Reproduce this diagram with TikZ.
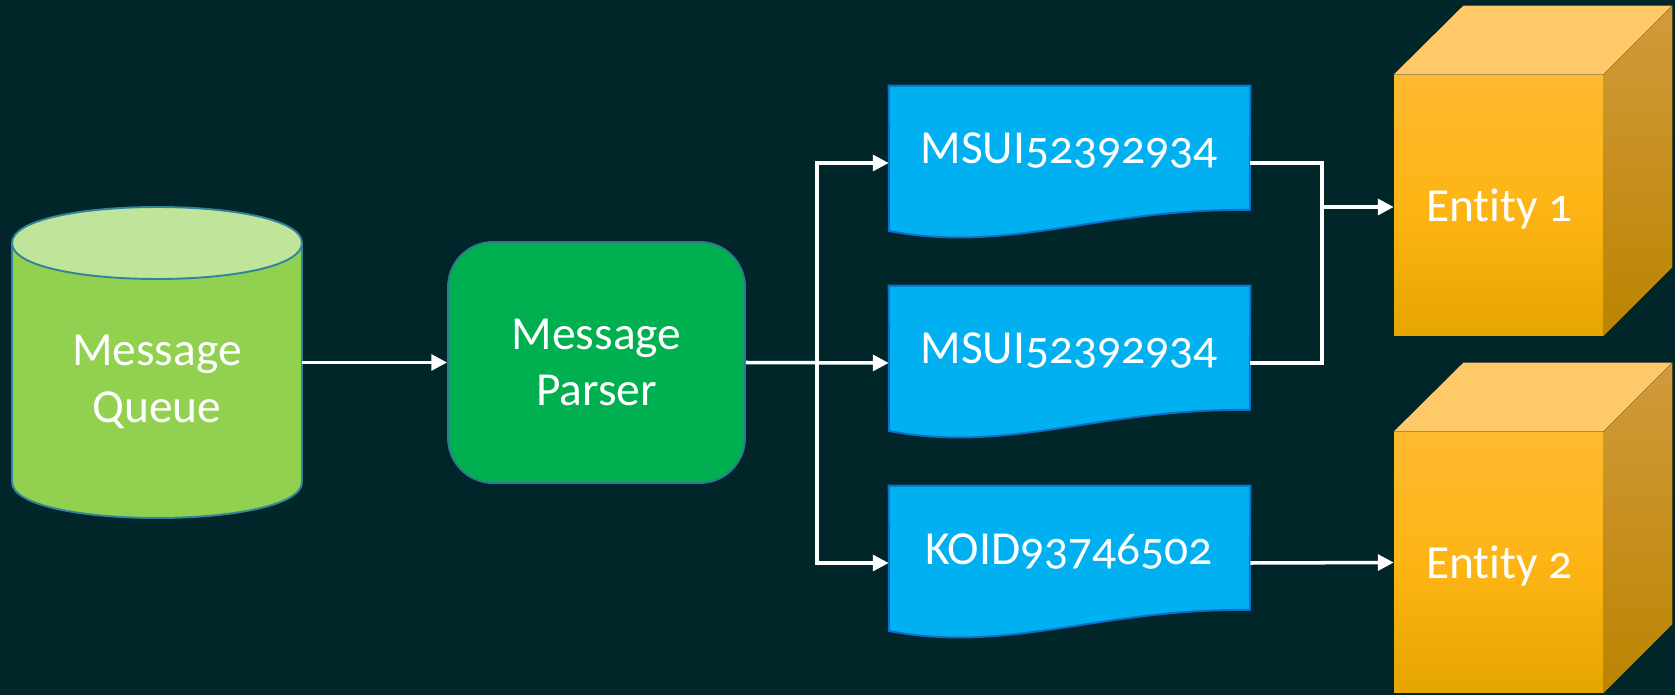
\documentclass[tikz,border=0pt]{standalone}
\usepackage{fontspec}
\setmainfont{Carlito}[Numbers=OldStyle,Ligatures=NoCommon]
\usetikzlibrary{arrows.meta,calc}
\definecolor{bg}{HTML}{012629}
\definecolor{mqbody}{HTML}{92D050}
\definecolor{mqtop}{HTML}{C0E49A}
\definecolor{mqline}{HTML}{31849B}
\definecolor{ppfill}{HTML}{00B050}
\definecolor{ppline}{HTML}{2F7A92}
\definecolor{docfill}{HTML}{00B0F0}
\definecolor{docline}{HTML}{0F6FC6}
\definecolor{cubetop}{HTML}{FFC869}
\definecolor{cubefrontA}{HTML}{FFB92F}
\definecolor{cubefrontB}{HTML}{FDB515}
\definecolor{cubefrontC}{HTML}{E6A500}
\definecolor{cubesideA}{HTML}{D29A3C}
\definecolor{cubesideB}{HTML}{BA8400}
\begin{document}
\begin{tikzpicture}[x=0.02cm,y=-0.02cm,
  lbl/.style={text=white,font=\fontsize{27}{32.3}\selectfont,align=center,inner sep=0pt},
  conn/.style={white,line width=2pt},
  arr/.style={conn,-{Triangle[length=9pt,width=9pt]}},
  docbox/.style={minimum width=7.22cm,minimum height=3.08cm,inner sep=0pt},
  docshape/.style={fill=docfill,draw=docline,line width=1.1pt},
  frontface/.style={minimum width=4.18cm,minimum height=5.22cm,inner sep=0pt,
     top color=cubefrontA,bottom color=cubefrontC,middle color=cubefrontB},
  sideface/.style={top color=cubesideA,bottom color=cubesideB},
  topface/.style={fill=cubetop}]
\fill[bg] (0,0) rectangle (1675,695);
\useasboundingbox (0,0) rectangle (1675,695);

% Message Queue cylinder
\node[inner sep=0pt,minimum width=5.8cm,minimum height=6.22cm] (mq) at (157,362.5) {};
\filldraw[fill=mqbody,draw=mqline,line width=1.1pt]
  (12,243) -- (12,482) .. controls (12,530) and (302,530) .. (302,482) -- (302,243) -- cycle;
\filldraw[fill=mqtop,draw=mqline,line width=1.1pt]
  (12,243) .. controls (12,195) and (302,195) .. (302,243)
  .. controls (302,291) and (12,291) .. (12,243) -- cycle;
\node[lbl] (mqlabel) at (157,382) {Message\\Queue};

% Message Parser
\node[lbl,draw=ppline,fill=ppfill,line width=1.1pt,rounded corners=0.9cm,
  minimum width=5.94cm,minimum height=4.82cm] (pp) at (596.5,362.5) {Message\\Parser};

% Documents
\foreach \i/\T/\txt in {1/86/MSUI52392934,2/286/MSUI52392934,3/486/KOID93746502}{
  \node[docbox] (d\i) at (1069.5,\T+77) {};
  \filldraw[docshape] (d\i.north west) -- (d\i.north east) -- (1250,\T+124)
    .. controls (1100,\T+122) and (1010,\T+168) .. (889,\T+145) -- cycle;
  \node[lbl,anchor=base] (d\i label) at (1069,\T+78) {\txt};
}

% Cubes
\foreach \i/\cy/\txt in {1/205.5/Entity 1,2/562.5/Entity 2}{
  \node[frontface] (e\i) at (1498.5,\cy) {};
  \fill[topface] (e\i.north west) -- (e\i.north east) -- ++(69,-69) -- ++(-209,0) -- cycle;
  \fill[sideface] (e\i.north east) -- ++(69,-69) -- ($(e\i.south east)+(69,-69)$) -- (e\i.south east) -- cycle;
  \node[lbl,anchor=base] (e\i label) at (1499.5,\cy+16) {\txt};
}

% Connectors
\draw[arr] (mq.east) -- (pp.west);
\coordinate (j) at (817,363);
\draw[arr] (pp.east) -- (d2.west);
\draw[arr] (j) |- (d1.west);
\draw[arr] (j) |- (d3.west);
\coordinate (k) at (1322,207);
\draw[conn] (d1.east) -| (k);
\draw[conn] (d2.east) -| (k);
\draw[arr] (k) -- (k -| e1.west);
\draw[arr] (d3.east) -- (e2.west);
\end{tikzpicture}
\end{document}
